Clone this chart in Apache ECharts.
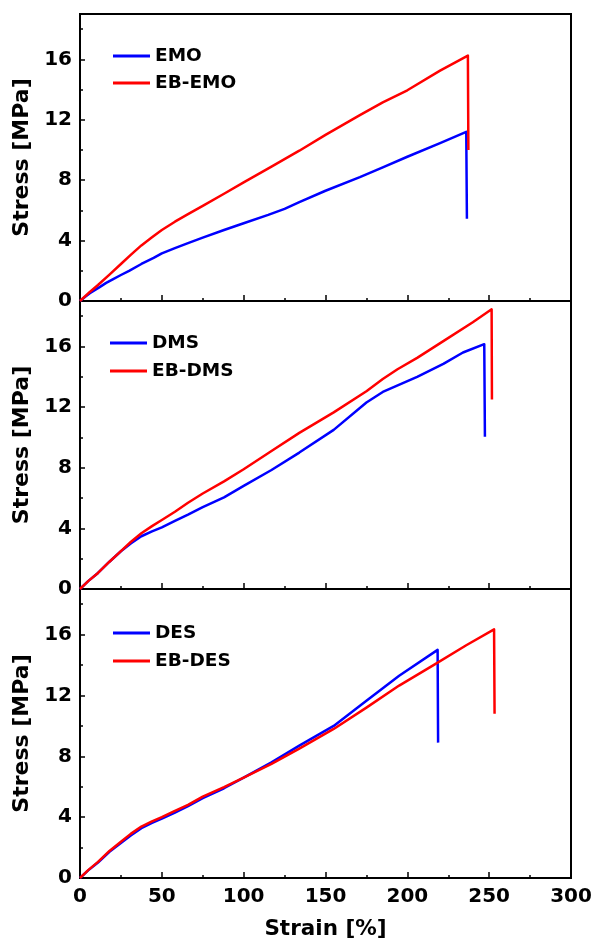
<!DOCTYPE html>
<html><head><meta charset="utf-8">
<script src="https://cdn.jsdelivr.net/npm/echarts@6/dist/echarts.min.js"></script>
<style>html,body{margin:0;padding:0;background:#fff}#c{width:598px;height:948px}</style>
</head><body><div id="c"></div>
<script>
// ---- data (strain %, stress MPa) ----
var emoStrain   = [0,3,6,9,12,16,20,25,30,37.5,45,50,58,66,75,88,100,115,125,134,150,171,185,200,220,236,236.4];
var emoStress   = [0,0.27,0.52,0.72,0.92,1.2,1.43,1.72,2.0,2.45,2.85,3.15,3.5,3.83,4.2,4.7,5.15,5.7,6.1,6.55,7.3,8.2,8.85,9.55,10.45,11.2,5.45];
var ebEmoStrain = [0,3,6,11,18,25,31,37.5,44,50,58,66,75,88,100,117,134,150,171,185,200,220,237,237.3];
var ebEmoStress = [0,0.3,0.6,1.06,1.75,2.45,3.05,3.68,4.22,4.7,5.25,5.75,6.3,7.1,7.85,8.9,9.95,11.0,12.3,13.15,13.95,15.25,16.25,10.0];

var dmsStrain   = [0,5,11,18,25,31,37.5,44,50,58,66,75,88,100,117,134,155,175,185,206,222,234,247,247.4];
var dmsStress   = [0,0.52,1.06,1.8,2.49,3.0,3.48,3.8,4.07,4.5,4.91,5.4,6.05,6.8,7.85,9.0,10.5,12.3,13.0,14.0,14.85,15.6,16.15,10.05];
var ebDmsStrain = [0,5,11,18,25,31,37.5,44,50,58,66,75,88,100,117,134,155,175,185,194,206,222,240,251.5,251.7];
var ebDmsStress = [0,0.52,1.06,1.8,2.5,3.1,3.68,4.15,4.55,5.1,5.69,6.3,7.1,7.9,9.1,10.3,11.65,13.05,13.85,14.5,15.25,16.35,17.6,18.45,12.5];

var desStrain   = [0,5,11,18,25,31,37.5,44,50,58,66,75,88,100,117,134,155,175,195,218.5,218.8];
var desStress   = [0,0.5,1.02,1.72,2.3,2.8,3.28,3.62,3.9,4.3,4.72,5.25,5.9,6.6,7.6,8.7,10.0,11.65,13.3,15.0,8.9];
var ebDesStrain = [0,5,11,18,25,31,37.5,44,50,58,66,75,88,100,117,134,155,175,195,216,236,253,253.3];
var ebDesStress = [0,0.52,1.06,1.78,2.38,2.9,3.38,3.72,4.0,4.42,4.81,5.35,5.98,6.6,7.5,8.5,9.8,11.2,12.65,14.0,15.3,16.35,10.8];

var yMajor = [0,4,8,12,16];
var yMinor = [2,6,10,14,18];
var xName = 'Strain [%]';
var yName = 'Stress [MPa]';

function zip(a,b){return a.map(function(v,i){return [v,b[i]];});}

var FONT = 'DejaVu Sans';
var tops = [14, 301, 589];
var heights = [287, 288, 289];
var grids = [], xAxes = [], yAxes = [], series = [], legends = [];

var panels = [
  {names:['EMO','EB-EMO'], data:[zip(emoStrain,emoStress), zip(ebEmoStrain,ebEmoStress)], lg:{left:113,top:45,gap:7}},
  {names:['DMS','EB-DMS'], data:[zip(dmsStrain,dmsStress), zip(ebDmsStrain,ebDmsStress)], lg:{left:110,top:332,gap:8}},
  {names:['DES','EB-DES'], data:[zip(desStrain,desStress), zip(ebDesStrain,ebDesStress)], lg:{left:113,top:622,gap:8}}
];
var colors = ['#0000ff','#ff0000'];

panels.forEach(function(p,i){
  grids.push({left:80, right:27, top:tops[i], height:heights[i], show:true, borderColor:'#000', borderWidth:2, backgroundColor:'transparent'});
  var last = (i === 2);
  xAxes.push({
    type:'value', gridIndex:i, min:0, max:300, interval:50,
    axisLine:{show:true, lineStyle:{color:'#000', width:2}},
    axisTick:{show:true, inside:true, length:6, lineStyle:{color:'#000', width:1.5}},
    minorTick:{show:true, splitNumber:2, length:3, lineStyle:{color:'#000', width:1.5}},
    axisLabel:{show:last, margin:9, color:'#000', fontFamily:FONT, fontWeight:'bold', fontSize:20},
    splitLine:{show:false},
    name: last ? xName : '', nameLocation:'middle', nameGap:40,
    nameTextStyle:{color:'#000', fontFamily:FONT, fontWeight:'bold', fontSize:21.5}
  });
  yAxes.push({
    type:'value', gridIndex:i, min:0, max:19, interval:4, position:'left',
    axisLine:{show:true, lineStyle:{color:'#000', width:2}},
    axisTick:{show:true, inside:true, length:5, customValues:yMajor, lineStyle:{color:'#000', width:1.5}},
    axisLabel:{show:true, customValues:yMajor, margin:8, color:'#000', fontFamily:FONT, fontWeight:'bold', fontSize:20},
    splitLine:{show:false},
    name: yName, nameLocation:'middle', nameGap:42,
    nameTextStyle:{color:'#000', fontFamily:FONT, fontWeight:'bold', fontSize:22}
  });
  p.names.forEach(function(n,k){
    series.push({
      type:'line', name:n, xAxisIndex:i, yAxisIndex:i, data:p.data[k],
      symbol:'none', showSymbol:false, smooth:false, z: 2+k,
      lineStyle:{color:colors[k], width:2.5, join:'round'}, itemStyle:{color:colors[k]}
    });
  });
  legends.push({
    data:p.names, orient:'vertical', left:p.lg.left, top:p.lg.top+1, itemGap:p.lg.gap, padding:0,
    icon:'rect', itemWidth:37, itemHeight:3, selectedMode:false,
    textStyle:{color:'#000', fontFamily:FONT, fontWeight:'bold', fontSize:18.5, lineHeight:20}
  });
});
// minor y ticks
panels.forEach(function(p,i){
  yAxes.push({
    type:'value', gridIndex:i, min:0, max:19, position:'left', offset:0,
    axisLine:{show:false},
    axisTick:{show:true, inside:true, length:3, customValues:yMinor, lineStyle:{color:'#000', width:1.5}},
    axisLabel:{show:false}, splitLine:{show:false}
  });
});

var chart = echarts.init(document.getElementById('c'), null, {renderer:'canvas'});
chart.setOption({
  animation:false, backgroundColor:'#fff',
  grid:grids, xAxis:xAxes, yAxis:yAxes, series:series, legend:legends
});
</script></body></html>
